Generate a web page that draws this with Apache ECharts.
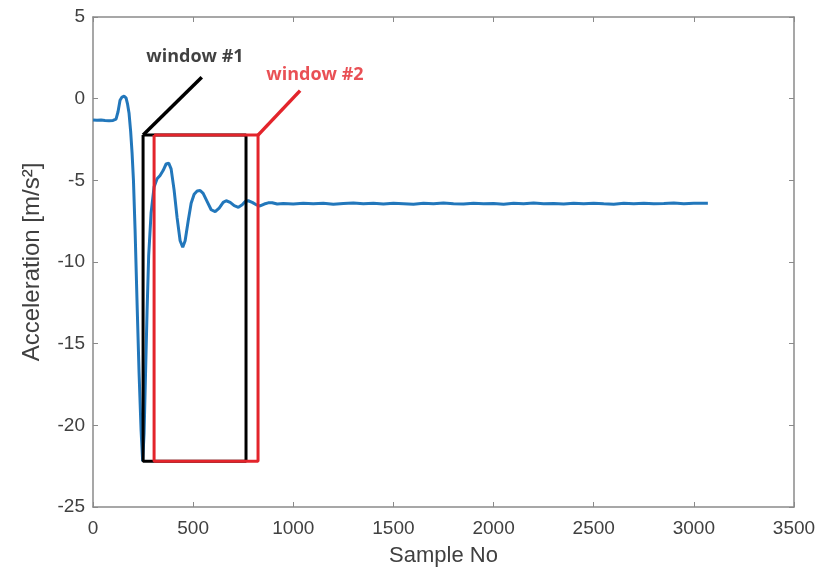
<!DOCTYPE html>
<html>
<head>
<meta charset="UTF-8">
<title>Acceleration windows</title>
<style>
  html, body { margin: 0; padding: 0; background: #fff; }
  #main { width: 821px; height: 574px; }
</style>
</head>
<body>
<div id="main"></div>
<script src="https://cdn.jsdelivr.net/npm/echarts@6/dist/echarts.min.js"></script>
<script>
// samples
var sampleNo = [0, 20, 40, 60, 80, 100, 115, 125, 135, 145, 155, 165, 172, 180, 188, 195, 202, 210, 220, 230, 240, 248,
  255, 262, 270, 278, 290, 305, 320, 335, 350, 365, 378, 390, 405, 420, 435, 448, 460, 475, 490, 505, 520, 535, 550,
  570, 590, 610, 630, 650, 665, 685, 705, 726, 745, 760, 775, 795, 815, 834, 855, 875, 895, 920, 950,
  1000, 1050, 1100, 1150, 1200, 1250, 1300, 1350, 1400, 1450, 1500, 1550, 1600, 1650, 1700, 1750, 1800, 1850, 1900,
  1950, 2000, 2050, 2100, 2150, 2200, 2250, 2300, 2350, 2400, 2450, 2500, 2550, 2600, 2650, 2700, 2750, 2800, 2850,
  2900, 2950, 3000, 3070];
var accel = [-1.30, -1.32, -1.30, -1.33, -1.35, -1.33, -1.25, -0.80, -0.10, 0.10, 0.15, 0.05, -0.30, -0.90, -2.00, -3.30,
  -5.00, -8.00, -12.50, -16.80, -20.30, -22.20,
  -20.50, -17.00, -13.00, -9.60, -7.00, -5.40, -4.90, -4.70, -4.40, -4.00, -3.95, -4.30, -5.60, -7.30, -8.70, -9.10,
  -8.70, -7.50, -6.40, -5.85, -5.65, -5.62, -5.80, -6.30, -6.80, -6.92, -6.70, -6.35, -6.25, -6.35, -6.55, -6.65,
  -6.50, -6.30, -6.25, -6.35, -6.50, -6.57, -6.45, -6.38, -6.37, -6.45, -6.42,
  -6.45, -6.41, -6.44, -6.40, -6.46, -6.42, -6.39, -6.44, -6.41, -6.45, -6.40, -6.43, -6.46, -6.41, -6.44, -6.39,
  -6.43, -6.45, -6.40, -6.44, -6.42, -6.46, -6.41, -6.43, -6.39, -6.44, -6.42, -6.45, -6.40, -6.43, -6.41, -6.44,
  -6.46, -6.41, -6.43, -6.40, -6.44, -6.42, -6.39, -6.43, -6.41, -6.40];

// annotation windows (data units)
var win1X = [250, 764];
var win2X = [305, 824];
var winY = [-2.23, -22.2];
var win1Pointer = [[250, -2.23], [543, 1.31]];
var win2Pointer = [[824, -2.23], [1034, 0.49]];
var labelPos1 = [509, 2.55];
var labelPos2 = [1108, 1.45];

var xTicks = { min: 0, max: 3500, interval: 500 };
var yTicks = { min: -25, max: 5, interval: 5 };

function rect(xs, ys) {
  return [[xs[0], ys[0]], [xs[1], ys[0]], [xs[1], ys[1]], [xs[0], ys[1]], [xs[0], ys[0]]];
}

var lineData = sampleNo.map(function (s, i) { return [s, accel[i]]; });

var axisGray = '#8a8a8a';
var textGray = '#404040';

function plain(v) { return String(v); }

var myChart = echarts.init(document.getElementById('main'));
myChart.setOption({
  animation: false,
  grid: { left: 93, right: 27, top: 17, bottom: 67 },
  xAxis: [{
    type: 'value', min: xTicks.min, max: xTicks.max, interval: xTicks.interval,
    name: 'Sample No', nameLocation: 'middle', nameGap: 38,
    nameTextStyle: { fontFamily: 'Liberation Sans', fontSize: 22, color: textGray },
    axisLine: { onZero: false, lineStyle: { color: axisGray, width: 1.5 } },
    axisTick: { inside: true, length: 5, lineStyle: { color: axisGray } },
    axisLabel: { fontFamily: 'Liberation Sans', fontSize: 19, color: textGray, margin: 12, formatter: plain },
    splitLine: { show: false }
  }, {
    type: 'value', position: 'top', min: xTicks.min, max: xTicks.max, interval: xTicks.interval,
    axisLine: { onZero: false, lineStyle: { color: axisGray, width: 1.5 } },
    axisTick: { inside: true, length: 5, lineStyle: { color: axisGray } },
    axisLabel: { show: false },
    splitLine: { show: false }
  }],
  yAxis: [{
    type: 'value', min: yTicks.min, max: yTicks.max, interval: yTicks.interval,
    name: 'Acceleration [m/s²]', nameLocation: 'middle', nameGap: 49,
    nameTextStyle: { fontFamily: 'Liberation Sans', fontSize: 24, color: textGray },
    axisLine: { show: true, onZero: false, lineStyle: { color: axisGray, width: 1.5 } },
    axisTick: { show: true, inside: true, length: 5, lineStyle: { color: axisGray } },
    axisLabel: { fontFamily: 'Liberation Sans', fontSize: 19, color: textGray, margin: 8, formatter: plain },
    splitLine: { show: false }
  }, {
    type: 'value', position: 'right', min: yTicks.min, max: yTicks.max, interval: yTicks.interval,
    axisLine: { show: true, onZero: false, lineStyle: { color: axisGray, width: 1.5 } },
    axisTick: { show: true, inside: true, length: 5, lineStyle: { color: axisGray } },
    axisLabel: { show: false },
    splitLine: { show: false }
  }],
  series: [
    {
      name: 'acceleration', type: 'line', data: lineData, showSymbol: false,
      lineStyle: { color: '#2277bb', width: 3 }, z: 2
    },
    {
      name: 'window #1', type: 'line', data: rect(win1X, winY), showSymbol: false,
      lineStyle: { color: '#000', width: 3 }, z: 3
    },
    {
      name: 'window #1 pointer', type: 'line', data: win1Pointer, showSymbol: false,
      lineStyle: { color: '#000', width: 3.5 }, z: 3
    },
    {
      name: 'window #2', type: 'line', data: rect(win2X, winY), showSymbol: false,
      lineStyle: { color: '#e3242b', width: 3 }, z: 4
    },
    {
      name: 'window #2 pointer', type: 'line', data: win2Pointer, showSymbol: false,
      lineStyle: { color: '#e3242b', width: 3.5 }, z: 4
    },
    {
      name: 'labels', type: 'scatter', symbolSize: 0, z: 5,
      data: [
        { value: labelPos1, name: 'window #1', label: { color: '#111' } },
        { value: labelPos2, name: 'window #2', label: { color: '#e3242b' } }
      ],
      label: {
        show: true, position: 'inside', formatter: '{b}',
        fontFamily: 'Open Sans', fontWeight: 'bold', fontSize: 18
      }
    }
  ]
});
</script>
</body>
</html>
